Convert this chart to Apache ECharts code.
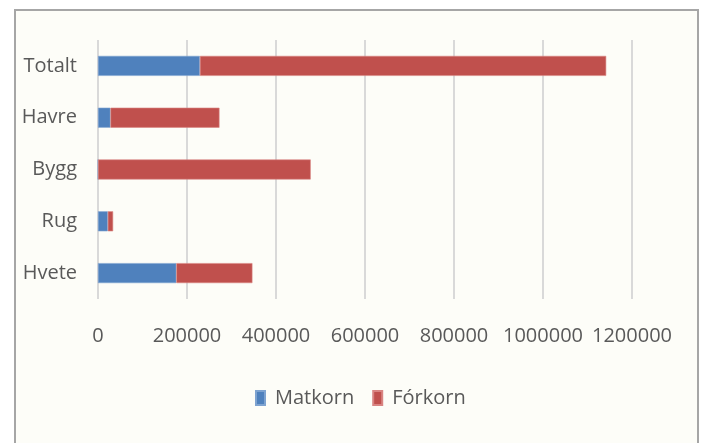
<!DOCTYPE html>
<html>
<head>
<meta charset="utf-8">
<script src="https://cdn.jsdelivr.net/npm/echarts@6/dist/echarts.min.js"></script>
<style>
  html, body { margin: 0; padding: 0; background: #ffffff; }
  #frame { position: absolute; left: 14px; top: 9px; width: 685px; height: 440px; border: 2px solid #a6a6a6; background: #fdfdf8; box-sizing: border-box; }
  #chart { position: absolute; left: 0; top: 0; width: 703px; height: 443px; }
</style>
</head>
<body>
<div id="frame"></div>
<div id="chart"></div>
<script>
const categories = ['Hvete', 'Rug', 'Bygg', 'Havre', 'Totalt'];
const matkorn = [176000, 22000, 0, 28000, 229000];
const forkorn = [171000, 12000, 478000, 245000, 913000];
const xTicks = [0, 200000, 400000, 600000, 800000, 1000000, 1200000];

const FONT = "'Open Sans', sans-serif";
const chart = echarts.init(document.getElementById('chart'), null, { renderer: 'canvas' });
chart.setOption({
  backgroundColor: 'transparent',
  animation: false,
  grid: { left: 98, right: 71, top: 40, bottom: 144, containLabel: false },
  legend: {
    bottom: 30,
    left: 250,
    itemWidth: 9,
    itemHeight: 14,
    itemGap: 18,
    icon: 'rect',
    textStyle: { fontFamily: FONT, fontSize: 20, color: '#595959', padding: [0, 0, 0, 5] },
    data: ['Matkorn', 'Fórkorn']
  },
  xAxis: {
    type: 'value',
    min: xTicks[0],
    max: xTicks[xTicks.length - 1],
    interval: 200000,
    axisLine: { show: false },
    axisTick: { show: false },
    splitLine: { show: true, lineStyle: { color: '#d9d9d9', width: 2 } },
    axisLabel: {
      margin: 27, fontFamily: FONT, fontSize: 20, color: '#595959',
      showMinLabel: true, showMaxLabel: true, hideOverlap: false,
      formatter: function (v) { return String(v); }
    }
  },
  yAxis: {
    type: 'category',
    data: categories,
    axisLine: { show: false },
    axisTick: { show: false },
    axisLabel: { margin: 21, fontFamily: FONT, fontSize: 20, color: '#595959' }
  },
  series: [
    {
      name: 'Matkorn', type: 'bar', stack: 'total', data: matkorn, barWidth: 20,
      itemStyle: { color: '#4f81bd', borderColor: '#7ea3d0', borderWidth: 0.6 }
    },
    {
      name: 'Fórkorn', type: 'bar', stack: 'total', data: forkorn, barWidth: 20,
      itemStyle: { color: '#c0504d', borderColor: '#d98482', borderWidth: 0.6 }
    }
  ]
});
</script>
</body>
</html>
